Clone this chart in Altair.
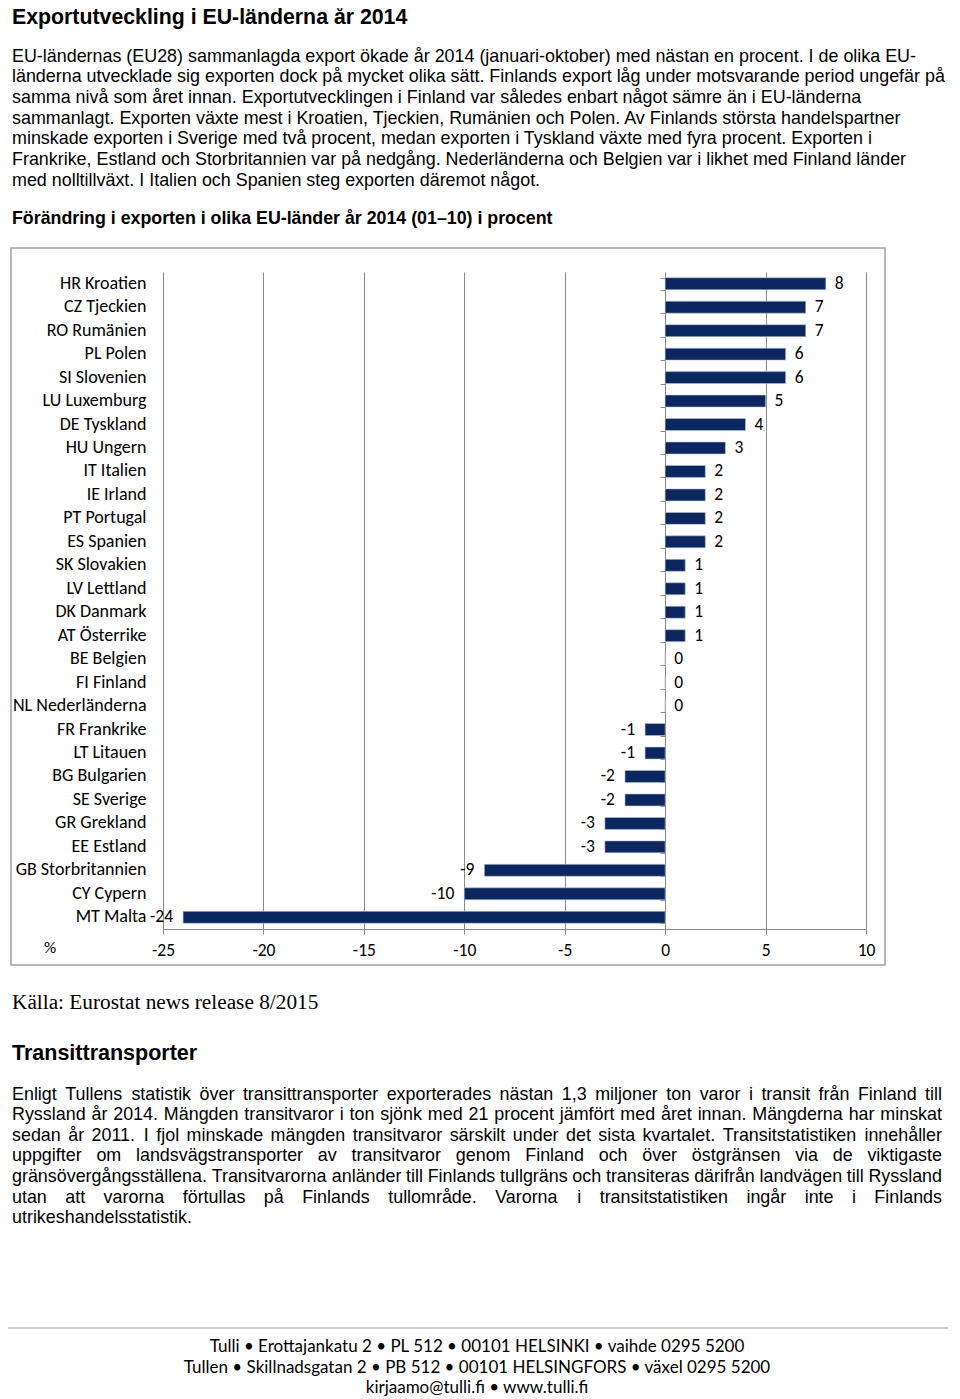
import altair as alt
import pandas as pd

# ---------------- data ----------------
countries = [
    "HR Kroatien", "CZ Tjeckien", "RO Rumänien", "PL Polen", "SI Slovenien",
    "LU Luxemburg", "DE Tyskland", "HU Ungern", "IT Italien", "IE Irland",
    "PT Portugal", "ES Spanien", "SK Slovakien", "LV Lettland", "DK Danmark",
    "AT Österrike", "BE Belgien", "FI Finland", "NL Nederländerna", "FR Frankrike",
    "LT Litauen", "BG Bulgarien", "SE Sverige", "GR Grekland", "EE Estland",
    "GB Storbritannien", "CY Cypern", "MT Malta",
]
values = [8, 7, 7, 6, 6, 5, 4, 3, 2, 2, 2, 2, 1, 1, 1, 1, 0, 0, 0,
          -1, -1, -2, -2, -3, -3, -9, -10, -24]
x_ticks = [-25, -20, -15, -10, -5, 0, 5, 10]

title_text = ["Exportutveckling i EU-länderna år 2014"]
intro_lines = [
    "EU-ländernas (EU28) sammanlagda export ökade år 2014 (januari-oktober) med nästan en procent. I de olika EU-",
    "länderna utvecklade sig exporten dock på mycket olika sätt. Finlands export låg under motsvarande period ungefär på",
    "samma nivå som året innan. Exportutvecklingen i Finland var således enbart något sämre än i EU-länderna",
    "sammanlagt. Exporten växte mest i Kroatien, Tjeckien, Rumänien och Polen. Av Finlands största handelspartner",
    "minskade exporten i Sverige med två procent, medan exporten i Tyskland växte med fyra procent. Exporten i",
    "Frankrike, Estland och Storbritannien var på nedgång. Nederländerna och Belgien var i likhet med Finland länder",
    "med nolltillväxt. I Italien och Spanien steg exporten däremot något.",
]
chart_title = ["Förändring i exporten i olika EU-länder år 2014 (01–10) i procent"]
unit_text = ["%"]
source_text = ["Källa: Eurostat news release 8/2015"]
transit_title = ["Transittransporter"]
transit_lines = [
    "Enligt Tullens statistik över transittransporter exporterades nästan 1,3 miljoner ton varor i transit från Finland till",
    "Ryssland år 2014. Mängden transitvaror i ton sjönk med 21 procent jämfört med året innan. Mängderna har minskat",
    "sedan år 2011. I fjol minskade mängden transitvaror särskilt under det sista kvartalet. Transitstatistiken innehåller",
    "uppgifter om landsvägstransporter av transitvaror genom Finland och över östgränsen via de viktigaste",
    "gränsövergångsställena. Transitvarorna anländer till Finlands tullgräns och transiteras därifrån landvägen till Ryssland",
    "utan att varorna förtullas på Finlands tullområde. Varorna i transitstatistiken ingår inte i Finlands",
]
transit_last = ["utrikeshandelsstatistik."]
footer_lines = [
    "Tulli • Erottajankatu 2 • PL 512 • 00101 HELSINKI • vaihde 0295 5200",
    "Tullen • Skillnadsgatan 2 • PB 512 • 00101 HELSINGFORS • växel 0295 5200",
    "kirjaamo@tulli.fi • www.tulli.fi",
]

# ---------------- styles ----------------
NAVY = "#0c2660"
GRID = "#8a8a8a"
ARIAL = "Liberation Sans, Arial, sans-serif"
TIMES = "Liberation Serif, Times New Roman, serif"
CALIBRI = "Carlito, Lato, sans-serif"
GILL = "Lato, sans-serif"
BODY_FS = 17.9

W, H = 703, 657
XMIN, XMAX = -25, 10

df = pd.DataFrame({"land": countries, "v": values})
df["lbl"] = df["v"].astype(str)
one = pd.DataFrame({"k": [0]})

yscale = alt.Scale(paddingInner=0.49, paddingOuter=0.245)
xscale = alt.Scale(domain=[XMIN, XMAX], nice=False, zero=False)

# Arial / Liberation Sans advance widths (per 1000 em) for justified text layout
_AW = {" ": 278, ",": 278, ".": 278, "-": 333, "(": 333, ")": 333, ":": 278, "/": 278}
_AW.update({d: 556 for d in "0123456789"})
_AW.update(dict(zip("ABCDEFGHIJKLMNOPQRSTUVWXYZ",
                    [667, 667, 722, 722, 667, 611, 778, 722, 278, 500, 667, 556, 833,
                     722, 778, 667, 778, 722, 667, 611, 722, 667, 944, 667, 667, 611])))
_AW.update(dict(zip("abcdefghijklmnopqrstuvwxyz",
                    [556, 556, 500, 556, 556, 278, 556, 556, 222, 222, 500, 222, 833,
                     556, 556, 556, 556, 333, 500, 278, 556, 500, 722, 500, 500, 500])))
_AW.update({"å": 556, "ä": 556, "ö": 556, "Å": 667, "Ä": 667, "Ö": 778})


def text_w(s, fs):
    return sum(_AW.get(c, 556) for c in s) * fs / 1000.0


# justified paragraph: word positions (in px from plot left), converted to data units
J_LEFT, J_RIGHT = -151, 779
rows = []
for li, line in enumerate(transit_lines):
    words = line.split(" ")
    ws = [text_w(w, BODY_FS) for w in words]
    gap = (J_RIGHT - J_LEFT - sum(ws)) / (len(words) - 1)
    px = J_LEFT
    for w, wd in zip(words, ws):
        rows.append({"line": li, "word": w, "xd": XMIN + px * (XMAX - XMIN) / W})
        px += wd + gap
words_df = pd.DataFrame(rows)

X_AXIS = alt.Axis(
    title=None, values=x_ticks, grid=True, gridColor=GRID, gridWidth=1,
    domainColor=GRID, tickColor=GRID, tickSize=5, labelFontSize=17.5,
    labelFont=CALIBRI, labelColor="black", labelPadding=7, labelFlush=False,
    labelExpr="'' + datum.value")

bars = alt.Chart(df).mark_bar(color=NAVY, stroke="#b9c3d8", strokeWidth=0.6).encode(
    x=alt.X("v:Q", scale=xscale, axis=X_AXIS),
    x2=alt.datum(0),
    y=alt.Y("land:N", sort=countries, scale=yscale, axis=alt.Axis(
        title=None, domain=False, ticks=False, grid=False, labelPadding=17,
        labelFontSize=18, labelFont=CALIBRI, labelColor="black")),
)

zero_axis = alt.Chart(df).mark_bar(opacity=0).encode(
    x=alt.X("v:Q", scale=xscale, axis=None),
    x2=alt.datum(0),
    y=alt.Y("land:N", sort=countries, scale=yscale, axis=alt.Axis(
        orient="left", offset=-502, title=None, labels=False, ticks=True,
        tickBand="extent", tickSize=5, tickColor=GRID, domain=True,
        domainColor=GRID, grid=False)),
)

pos_lbl = alt.Chart(df).transform_filter("datum.v >= 0").mark_text(
    align="left", baseline="middle", dx=9, fontSize=17.5, font=CALIBRI, color="black"
).encode(
    x=alt.X("v:Q", scale=xscale, axis=None),
    y=alt.Y("land:N", sort=countries, scale=yscale, axis=None),
    text="lbl:N",
)
neg_lbl = alt.Chart(df).transform_filter("datum.v < 0").mark_text(
    align="right", baseline="middle", dx=-10, fontSize=17.5, font=CALIBRI, color="black"
).encode(
    x=alt.X("v:Q", scale=xscale, axis=None),
    y=alt.Y("land:N", sort=countries, scale=yscale, axis=None),
    text="lbl:N",
)


def txt(lines, x, y, size, font, weight="normal", align="left", color="black", lh=20.7):
    return alt.Chart(one).mark_text(
        text=lines, align=align, baseline="alphabetic", fontSize=size, font=font,
        fontWeight=weight, color=color, lineHeight=lh,
    ).encode(x=alt.value(x), y=alt.value(y))


TRANSIT_Y0 = 827.5
word_layers = [
    alt.Chart(words_df).transform_filter(f"datum.line == {i}").mark_text(
        align="left", baseline="alphabetic", fontSize=BODY_FS, font=ARIAL, color="black"
    ).encode(
        x=alt.X("xd:Q", scale=xscale, axis=None),
        y=alt.value(TRANSIT_Y0 + i * 20.6),
        text="word:N",
    )
    for i in range(len(transit_lines))
]

frame = alt.Chart(one).mark_rect(fillOpacity=0, stroke="#a0a0a0", strokeWidth=1.5).encode(
    x=alt.value(-152), x2=alt.value(722), y=alt.value(-24), y2=alt.value(693)
)
footer_rule = alt.Chart(one).mark_rule(color="#cfcfcf", strokeWidth=2).encode(
    x=alt.value(-155), x2=alt.value(790), y=alt.value(1056)
)

layers = [
    frame, bars, zero_axis, pos_lbl, neg_lbl,
    txt(title_text, -151, -248, 21.3, ARIAL, "bold"),
    txt(intro_lines, -151, -210.5, BODY_FS, ARIAL),
    txt(chart_title, -151, -48.5, 17.8, ARIAL, "bold"),
    txt(unit_text, -113, 681, 17, CALIBRI, align="center"),
    txt(source_text, -151, 737, 21.3, TIMES),
    txt(transit_title, -151, 788, 21.5, ARIAL, "bold"),
    *word_layers,
    txt(transit_last, -151, TRANSIT_Y0 + 6 * 20.6, BODY_FS, ARIAL),
    footer_rule,
    txt(footer_lines, 314, 1080, 17, GILL, align="center", lh=20.5),
]

chart = alt.layer(*layers).resolve_axis(x="independent", y="independent").properties(
    width=W, height=H,
    autosize=alt.AutoSizeParams(type="none"),
    padding={"left": 155, "top": 264, "right": 82, "bottom": 470},
).configure_view(stroke=None)

chart.save("out.html", embed_options={"renderer": "svg", "actions": False})
